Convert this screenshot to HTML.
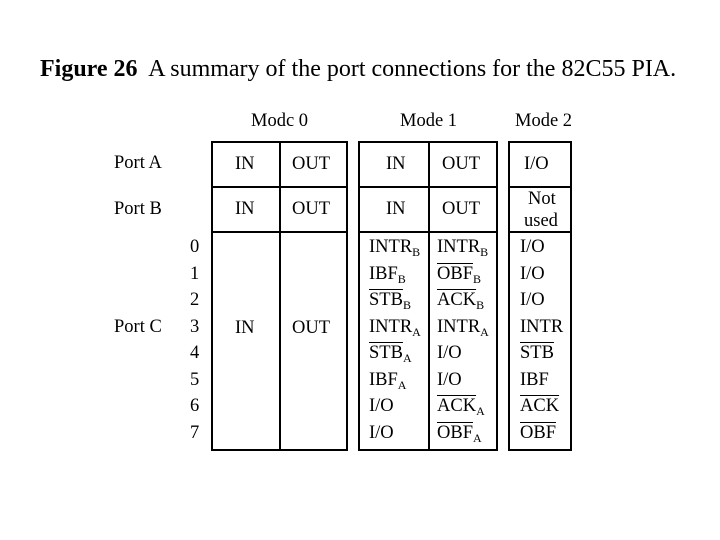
<!DOCTYPE html>
<html><head><style>
body{margin:0;width:720px;height:540px;background:#fff;position:relative;font-family:"Liberation Serif",serif;color:#000;overflow:hidden}
.t{position:absolute;font-size:18.5px;line-height:20px;white-space:nowrap}
.b{position:absolute;border:2px solid #000;box-sizing:border-box}
.h{position:absolute;height:2px;background:#000}
.v{position:absolute;width:2px;background:#000}
.o{text-decoration:overline}
sub{font-size:12px;vertical-align:-4px;line-height:0}
</style></head><body>
<div class="t" style="left:40px;top:56px;font-size:24px;line-height:26px"><b>Figure 26</b>&nbsp; A summary of the port connections for the 82C55 PIA.</div>
<div class="t" style="left:251px;top:111px">Modc 0</div>
<div class="t" style="left:400px;top:111px">Mode 1</div>
<div class="t" style="left:515px;top:111px">Mode 2</div>
<div class="t" style="left:114px;top:153px">Port A</div>
<div class="t" style="left:114px;top:199px">Port B</div>
<div class="t" style="left:114px;top:317px">Port C</div>

<div class="b" style="left:211px;top:141px;width:137px;height:310px"></div>
<div class="b" style="left:358px;top:141px;width:140px;height:310px"></div>
<div class="b" style="left:508px;top:141px;width:64px;height:310px"></div>
<div class="h" style="left:211px;top:186px;width:137px"></div>
<div class="h" style="left:211px;top:231px;width:137px"></div>
<div class="h" style="left:358px;top:186px;width:140px"></div>
<div class="h" style="left:358px;top:231px;width:140px"></div>
<div class="h" style="left:508px;top:186px;width:64px"></div>
<div class="h" style="left:508px;top:231px;width:64px"></div>
<div class="v" style="left:279px;top:141px;height:310px"></div>
<div class="v" style="left:428px;top:141px;height:310px"></div>

<div class="t" style="left:235px;top:154px">IN</div>
<div class="t" style="left:292px;top:154px">OUT</div>
<div class="t" style="left:235px;top:199px">IN</div>
<div class="t" style="left:292px;top:199px">OUT</div>
<div class="t" style="left:386px;top:154px">IN</div>
<div class="t" style="left:442px;top:154px">OUT</div>
<div class="t" style="left:386px;top:199px">IN</div>
<div class="t" style="left:442px;top:199px">OUT</div>
<div class="t" style="left:524px;top:154px">I/O</div>
<div class="t" style="left:528px;top:189px">Not</div>
<div class="t" style="left:524px;top:211px">used</div>
<div class="t" style="left:235px;top:318px">IN</div>
<div class="t" style="left:292px;top:318px">OUT</div>

<div class="t" style="left:190px;top:237px">0</div>
<div class="t" style="left:190px;top:264px">1</div>
<div class="t" style="left:190px;top:290px">2</div>
<div class="t" style="left:190px;top:317px">3</div>
<div class="t" style="left:190px;top:343px">4</div>
<div class="t" style="left:190px;top:370px">5</div>
<div class="t" style="left:190px;top:396px">6</div>
<div class="t" style="left:190px;top:423px">7</div>

<div class="t" style="left:369px;top:237px">INTR<sub>B</sub></div>
<div class="t" style="left:369px;top:264px">IBF<sub>B</sub></div>
<div class="t" style="left:369px;top:290px"><span class="o">STB</span><sub>B</sub></div>
<div class="t" style="left:369px;top:317px">INTR<sub>A</sub></div>
<div class="t" style="left:369px;top:343px"><span class="o">STB</span><sub>A</sub></div>
<div class="t" style="left:369px;top:370px">IBF<sub>A</sub></div>
<div class="t" style="left:369px;top:396px">I/O</div>
<div class="t" style="left:369px;top:423px">I/O</div>

<div class="t" style="left:437px;top:237px">INTR<sub>B</sub></div>
<div class="t" style="left:437px;top:264px"><span class="o">OBF</span><sub>B</sub></div>
<div class="t" style="left:437px;top:290px"><span class="o">ACK</span><sub>B</sub></div>
<div class="t" style="left:437px;top:317px">INTR<sub>A</sub></div>
<div class="t" style="left:437px;top:343px">I/O</div>
<div class="t" style="left:437px;top:370px">I/O</div>
<div class="t" style="left:437px;top:396px"><span class="o">ACK</span><sub>A</sub></div>
<div class="t" style="left:437px;top:423px"><span class="o">OBF</span><sub>A</sub></div>

<div class="t" style="left:520px;top:237px">I/O</div>
<div class="t" style="left:520px;top:264px">I/O</div>
<div class="t" style="left:520px;top:290px">I/O</div>
<div class="t" style="left:520px;top:317px">INTR</div>
<div class="t" style="left:520px;top:343px"><span class="o">STB</span></div>
<div class="t" style="left:520px;top:370px">IBF</div>
<div class="t" style="left:520px;top:396px"><span class="o">ACK</span></div>
<div class="t" style="left:520px;top:423px"><span class="o">OBF</span></div>
</body></html>
